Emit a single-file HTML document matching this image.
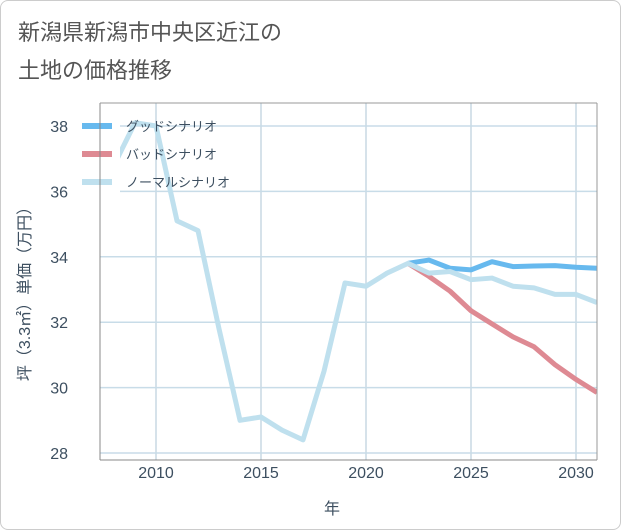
<!DOCTYPE html>
<html><head><meta charset="utf-8"><style>
body{margin:0;background:#fff;font-family:"Liberation Sans","Noto Sans CJK JP",sans-serif;}
#wrap{position:relative;width:619px;height:528px;border:1px solid #ccc;border-radius:8px;background:#fff;}
</style></head><body>
<div id="wrap">
<svg id="chart" width="621" height="530" style="position:absolute;left:-1px;top:-1px">
<text x="18" y="40" font-size="22" fill="#555" font-family="Liberation Sans,Noto Sans CJK JP,sans-serif">新潟県新潟市中央区近江の</text>
<text x="18" y="78" font-size="22" fill="#555" font-family="Liberation Sans,Noto Sans CJK JP,sans-serif">土地の価格推移</text>
<g id="grid"></g><g id="lines"></g><g id="axes"></g>
<text x="332" y="514" font-size="16" fill="#3d4f60" text-anchor="middle" font-family="Liberation Sans,Noto Sans CJK JP,sans-serif">年</text>
<text transform="translate(30,290) rotate(-90)" font-size="16" fill="#3d4f60" text-anchor="middle" font-family="Liberation Sans,Noto Sans CJK JP,sans-serif">坪（3.3㎡）単価（万円）</text>
</svg>
</div>
<script>
const years=[2007,2008,2009,2010,2011,2012,2013,2014,2015,2016,2017,2018,2019,2020,2021,2022,2023,2024,2025,2026,2027,2028,2029,2030,2031];
const normal=[35.6,36.8,38.1,38.0,35.1,34.8,31.8,29.0,29.1,28.7,28.4,30.5,33.2,33.1,33.5,33.8,33.5,33.55,33.3,33.35,33.1,33.05,32.85,32.85,32.6];
const futureYears=[2022,2023,2024,2025,2026,2027,2028,2029,2030,2031];
const good=[33.8,33.9,33.65,33.6,33.85,33.7,33.72,33.73,33.68,33.65];
const bad=[33.8,33.4,32.95,32.35,31.95,31.55,31.25,30.7,30.25,29.85];
const xTicks=[2010,2015,2020,2025,2030];
const yTicks=[28,30,32,34,36,38];
const X0=100,X1=597,Y0=103,Y1=460;
const xs=y=>156+(y-2010)*21;
const ys=v=>126+(38-v)*32.7;
const NS="http://www.w3.org/2000/svg";
function mk(t,a,p){const e=document.createElementNS(NS,t);for(const k in a)e.setAttribute(k,a[k]);p.appendChild(e);return e;}
const grid=document.getElementById('grid'),lines=document.getElementById('lines'),axes=document.getElementById('axes');
xTicks.forEach(t=>{const l=mk('line',{x1:xs(t),x2:xs(t),y1:Y0,y2:Y1,stroke:'#c8d8e4','stroke-width':1.5},grid);


const tx=mk('text',{x:xs(t),y:478,'font-size':16,fill:'#3d4f60','text-anchor':'middle'},axes);tx.textContent=t;

});
yTicks.forEach(t=>{const l=mk('line',{x1:X0,x2:X1,y1:ys(t),y2:ys(t),stroke:'#c8dce8','stroke-width':1.5},grid);


const tx=mk('text',{x:68,y:ys(t)+6,'font-size':16,fill:'#3d4f60','text-anchor':'end'},axes);tx.textContent=t;

});
mk('line',{x1:X0,x2:X0,y1:Y0,y2:Y1,stroke:'#888','stroke-width':1},axes);
mk('line',{x1:X0,x2:X1,y1:Y0,y2:Y0,stroke:'#999','stroke-width':1},axes);
mk('line',{x1:X0,x2:X1,y1:Y1,y2:Y1,stroke:'#888','stroke-width':1},axes);
mk('line',{x1:X1,x2:X1,y1:Y0,y2:Y1,stroke:'#999','stroke-width':1},axes);
const clip=mk('clipPath',{id:'pc'},lines);mk('rect',{x:X0,y:Y0,width:X1-X0,height:Y1-Y0},clip);
function series(xv,yv,c,name){const p=mk('polyline',{points:xv.map((x,i)=>xs(x)+','+ys(yv[i])).join(' '),fill:'none',stroke:c,'stroke-width':5,'stroke-linejoin':'round','clip-path':'url(#pc)'},lines);

}
series(futureYears,bad,'#de8a93','bad-scenario-line');
series(futureYears,good,'#67b9ee','good-scenario-line');
series(years,normal,'#bfe0ee','normal-scenario-line');
const lg=mk('g',{},lines);


mk('rect',{x:80,y:112,width:40,height:86,fill:'#fff'},lg);
[['グッドシナリオ','#67b9ee'],['バッドシナリオ','#de8a93'],['ノーマルシナリオ','#bfe0ee']].forEach((d,i)=>{
const y=126+i*28;
const r=mk('rect',{x:82,y:y-3,width:30,height:6,fill:d[1]},lg);


const t=mk('text',{x:126,y:y+5,'font-size':13,fill:'#3d4f60'},lg);t.textContent=d[0];

});
</script>
</body></html>
